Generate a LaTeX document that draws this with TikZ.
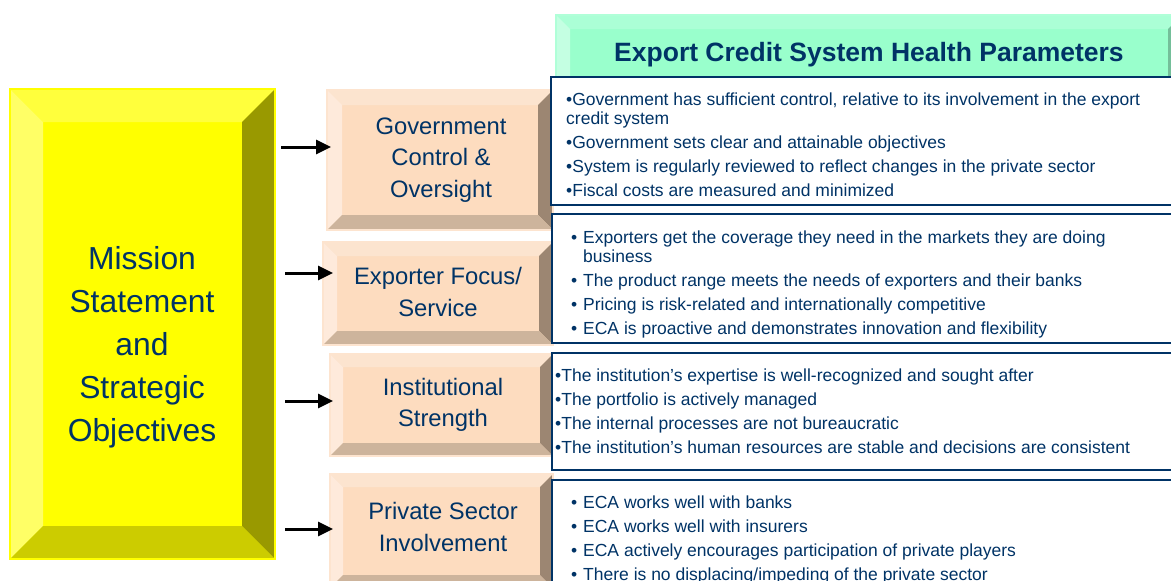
\documentclass[tikz,border=0pt]{standalone}
\usepackage{fontspec}
\setmainfont{Liberation Sans}
\usetikzlibrary{arrows.meta}
\definecolor{navy}{HTML}{003366}
% yellow bevel set
\definecolor{yface}{HTML}{FFFF00}
\definecolor{ytop}{HTML}{FFFF3C}
\definecolor{yleft}{HTML}{FFFF66}
\definecolor{yright}{HTML}{999900}
\definecolor{ybot}{HTML}{CCCC00}
\definecolor{yedge}{HTML}{FFFF00}
% orange bevel set
\definecolor{oface}{HTML}{FDDCBF}
\definecolor{otop}{HTML}{FCE4CF}
\definecolor{oleft}{HTML}{FEEADB}
\definecolor{oright}{HTML}{9C8672}
\definecolor{obot}{HTML}{CDB49C}
\definecolor{oedge}{HTML}{FDE4CF}
% green bevel set
\definecolor{gface}{HTML}{99FFCC}
\definecolor{gtop}{HTML}{ABFFD6}
\definecolor{gleft}{HTML}{C4FFE2}
\definecolor{gright}{HTML}{74BF9A}
\definecolor{gbot}{HTML}{7ACCA3}
\definecolor{gedge}{HTML}{B0FFD8}
\newcommand{\bevelbox}[6]{%
  \fill[#6face] (#1,#2) rectangle (#3,#4);
  \fill[#6top] (#1,#2) -- (#3,#2) -- ({#3-#5},{#2+#5}) -- ({#1+#5},{#2+#5}) -- cycle;
  \fill[#6left] (#1,#2) -- ({#1+#5},{#2+#5}) -- ({#1+#5},{#4-#5}) -- (#1,#4) -- cycle;
  \fill[#6right] (#3,#2) -- (#3,#4) -- ({#3-#5},{#4-#5}) -- ({#3-#5},{#2+#5}) -- cycle;
  \fill[#6bot] (#1,#4) -- (#3,#4) -- ({#3-#5},{#4-#5}) -- ({#1+#5},{#4-#5}) -- cycle;
  \draw[#6edge, line width=1.5pt] (#1,#2) rectangle (#3,#4);
}
\begin{document}
\begin{tikzpicture}[x=1pt,y=-1pt,
  boxnode/.style={inner sep=0pt, outer sep=0pt},
  ytext/.style={align=center, text=navy, font=\fontsize{31.8}{43}\selectfont},
  otext/.style={align=center, text=navy, font=\fontsize{23.8}{31.5}\selectfont},
  htext/.style={text=navy, font=\fontsize{26.5}{30}\selectfont\bfseries},
  btext/.style={text=navy, inner sep=0pt, font=\fontsize{17.5}{19}\selectfont},
  bluebox/.style={draw=navy, fill=white, line width=2.5pt},
  arr/.style={line width=3pt, -{Triangle[length=15pt,width=14pt]}}
]
\path[use as bounding box] (0,0) rectangle (1171,581);
\clip (0,0) rectangle (1171,581);
\fill[white] (0,0) rectangle (1171,581);

% left yellow box
\bevelbox{10}{89}{275}{559}{33}{y}
\node[ytext] (mission) at (142,347) {Mission\\Statement\\and\\Strategic\\Objectives};

% orange boxes
\bevelbox{327}{90}{553}{230}{15}{o}
\bevelbox{323}{242}{553}{345}{14}{o}
\bevelbox{330}{354}{553}{456}{13}{o}
\bevelbox{330}{474}{553}{588}{13}{o}
\node[boxnode, minimum width=226pt, minimum height=140pt] (gov) at (440,160) {};
\node[boxnode, minimum width=230pt, minimum height=103pt] (exp) at (438,293.5) {};
\node[boxnode, minimum width=223pt, minimum height=102pt] (ins) at (441.5,405) {};
\node[boxnode, minimum width=223pt, minimum height=114pt] (pri) at (441.5,531) {};
\node[otext] (tgov) at (441,160) {Government\\Control \&\\Oversight};
\node[otext] (texp) at (438,292) {Exporter Focus/\\Service};
\node[otext] (tins) at (443,405) {Institutional\\Strength};
\node[otext] (tpri) at (443,527) {Private Sector\\Involvement};

% header
\bevelbox{556}{15}{1182}{95}{14}{g}
\node[htext, anchor=base] (head) at (869,61) {Export Credit System Health Parameters};

% blue bordered boxes
\draw[bluebox] (551,77) rectangle (1185,205);
\draw[bluebox] (552,214) rectangle (1185,343);
\draw[bluebox] (552,353) rectangle (1185,470);
\draw[bluebox] (552,480) rectangle (1185,620);

\node[btext, anchor=base west] (ta) at (566,105) {\begin{tabular}[t]{@{}l@{}}%
•Government has sufficient control, relative to its involvement in the export\\
credit system\\[5pt]
•Government sets clear and attainable objectives\\[5pt]
•System is regularly reviewed to reflect changes in the private sector\\[5pt]
•Fiscal costs are measured and minimized\end{tabular}};

\node[btext, anchor=base west] (tb) at (571,243) {\begin{tabular}[t]{@{}l@{}}%
\makebox[12pt][l]{•}Exporters get the coverage they need in the markets they are doing\\
\hspace*{12pt}business\\[5pt]
\makebox[12pt][l]{•}The product range meets the needs of exporters and their banks\\[5pt]
\makebox[12pt][l]{•}Pricing is risk-related and internationally competitive\\[5pt]
\makebox[12pt][l]{•}ECA is proactive and demonstrates innovation and flexibility\end{tabular}};

\node[btext, anchor=base west] (tc) at (555,381) {\begin{tabular}[t]{@{}l@{}}%
•The institution’s expertise is well-recognized and sought after\\[5pt]
•The portfolio is actively managed\\[5pt]
•The internal processes are not bureaucratic\\[5pt]
•The institution’s human resources are stable and decisions are consistent\end{tabular}};

\node[btext, anchor=base west] (td) at (571,508) {\begin{tabular}[t]{@{}l@{}}%
\makebox[12pt][l]{•}ECA works well with banks\\[5pt]
\makebox[12pt][l]{•}ECA works well with insurers\\[5pt]
\makebox[12pt][l]{•}ECA actively encourages participation of private players\\[5pt]
\makebox[12pt][l]{•}There is no displacing/impeding of the private sector\end{tabular}};

% arrows
\coordinate (s1) at (281,147);
\coordinate (s2) at (285,273);
\coordinate (s3) at (285,401);
\coordinate (s4) at (285,529);
\draw[arr, shorten >=-4pt] (s1) -- (s1 -| gov.west);
\draw[arr, shorten >=-10pt] (s2) -- (s2 -| exp.west);
\draw[arr, shorten >=-3pt] (s3) -- (s3 -| ins.west);
\draw[arr, shorten >=-3pt] (s4) -- (s4 -| pri.west);
\end{tikzpicture}
\end{document}
